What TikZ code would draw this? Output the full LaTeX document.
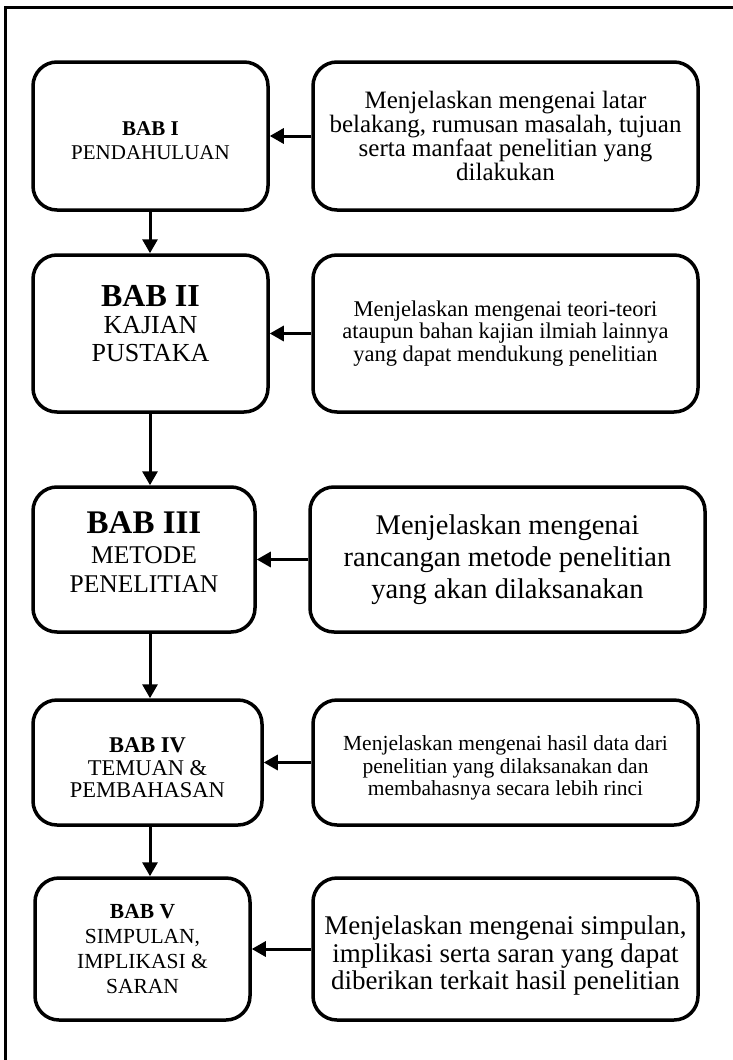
\documentclass[tikz,border=0pt]{standalone}
\usepackage{fontspec}
\setmainfont{Liberation Serif}
\usetikzlibrary{arrows.meta}
\newcommand{\bsize}[2]{\fontsize{#1}{#2}\selectfont}
\tikzset{
    chap/.style={draw,line width=3.5pt,rounded corners=24pt,align=center,inner sep=4pt},
    desc/.style={chap,minimum width=385pt},
    arr/.style={line width=3pt,-{Triangle[width=15pt,length=14pt]}},
}
\begin{document}
\begin{tikzpicture}[x=1pt,y=-1pt]
        \useasboundingbox (0,0) rectangle (733,1060);
        \draw[line width=3pt] (5,1080) -- (5,7) -- (750,7);
        % chapters
        \node[chap,minimum width=235pt,minimum height=148pt,text height=47pt,font=\bsize{21}{24}] (bab1) at (150.5,136) {\textbf{BAB I}\\PENDAHULUAN};
        \node[chap,minimum width=235pt,minimum height=157pt,text depth=21pt,font=\bsize{26}{27.5}] (bab2) at (150.5,333.5) {{\bsize{32}{27.5}\textbf{BAB II}}\\KAJIAN\\PUSTAKA};
        \node[chap,minimum width=222pt,minimum height=145pt,text depth=14pt,font=\bsize{25.5}{29.5}] (bab3) at (144,559.5) {{\bsize{33}{29.5}\textbf{BAB III}}\\METODE\\PENELITIAN};
        \node[chap,minimum width=229pt,minimum height=125pt,text height=71pt,font=\bsize{22.5}{22.5}] (bab4) at (147.5,762.5) {\textbf{BAB IV}\\TEMUAN \&\\PEMBAHASAN};
        \node[chap,minimum width=215pt,minimum height=142pt,font=\bsize{21.5}{25}] (bab5) at (142.5,949) {\textbf{BAB V}\\SIMPULAN,\\IMPLIKASI \&\\SARAN};
        % descriptions
        \node[desc,minimum height=148pt,font=\bsize{25}{22.5}] (isi1) at (505.5,136) {Menjelaskan mengenai latar\\belakang, rumusan masalah, tujuan\\serta manfaat penelitian yang\\dilakukan};
        \node[desc,minimum height=157pt,font=\bsize{22.5}{22.5}] (isi2) at (505.5,333.5) {Menjelaskan mengenai teori-teori\\ataupun bahan kajian ilmiah lainnya\\yang dapat mendukung penelitian};
        \node[desc,minimum width=395pt,minimum height=145pt,font=\bsize{28.5}{32}] (isi3) at (507.5,559.5) {Menjelaskan mengenai\\rancangan metode penelitian\\yang akan dilaksanakan};
        \node[desc,minimum height=125pt,text height=71pt,font=\bsize{21.5}{22.5}] (isi4) at (505.5,762.5) {Menjelaskan mengenai hasil data dari\\penelitian yang dilaksanakan dan\\membahasnya secara lebih rinci};
        \node[desc,minimum height=142pt,text height=87pt,font=\bsize{27}{27.5}] (isi5) at (505.5,949) {Menjelaskan mengenai simpulan,\\implikasi serta saran yang dapat\\diberikan terkait hasil penelitian};
        % arrows
        \coordinate (spine) at (150,0);
        \draw[arr] (spine |- bab1.south) -- (spine |- bab2.north);
        \draw[arr] (spine |- bab2.south) -- (spine |- bab3.north);
        \draw[arr] (spine |- bab3.south) -- (spine |- bab4.north);
        \draw[arr] (spine |- bab4.south) -- (spine |- bab5.north);
        \draw[arr] (isi1.west) -- (isi1.west -| bab1.east);
        \draw[arr] (isi2.west) -- (isi2.west -| bab2.east);
        \draw[arr] (isi3.west) -- (isi3.west -| bab3.east);
        \draw[arr] (isi4.west) -- (isi4.west -| bab4.east);
        \draw[arr] (isi5.west) -- (isi5.west -| bab5.east);
\end{tikzpicture}
\end{document}
